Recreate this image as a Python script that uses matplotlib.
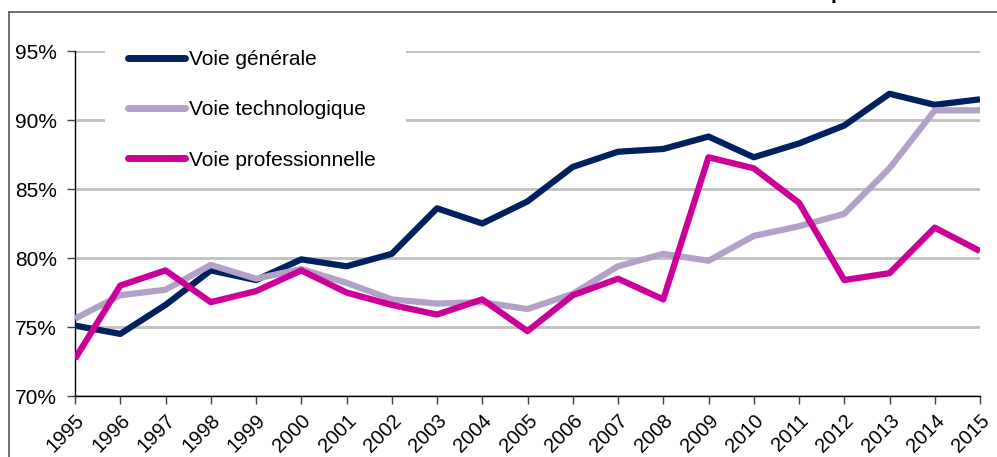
import matplotlib
matplotlib.use("Agg")
import matplotlib.pyplot as plt
from matplotlib.patches import Rectangle
from matplotlib.lines import Line2D
from matplotlib.ticker import FuncFormatter

plt.rcParams['font.family'] = ['Liberation Sans', 'DejaVu Sans']

years = list(range(1995, 2016))
generale = [75.1, 74.5, 76.6, 79.1, 78.4, 79.9, 79.4, 80.3, 83.6, 82.5, 84.1,
            86.6, 87.7, 87.9, 88.8, 87.3, 88.3, 89.6, 91.9, 91.1, 91.5]
techno = [75.6, 77.3, 77.7, 79.5, 78.5, 79.2, 78.2, 77.0, 76.7, 76.8, 76.3,
          77.4, 79.4, 80.3, 79.8, 81.6, 82.3, 83.2, 86.5, 90.7, 90.7]
pro = [72.7, 78.0, 79.1, 76.8, 77.6, 79.1, 77.5, 76.6, 75.9, 77.0, 74.7,
       77.3, 78.5, 77.0, 87.3, 86.5, 84.0, 78.4, 78.9, 82.2, 80.5]
series_names = ['Voie générale', 'Voie technologique', 'Voie professionnelle']
colors = ['#002060', '#B3A2C7', '#CC0099']
yticks = [70, 75, 80, 85, 90, 95]

W, H = 997, 457
fig = plt.figure(figsize=(W / 100, H / 100), dpi=100)
ax = fig.add_axes([75 / W, 1 - 396 / H, (980 - 75) / W, (396 - 51) / H])

lw = 4.5
for vals, name, c in zip([generale, techno, pro], series_names, colors):
    ax.plot(years, vals, color=c, lw=lw, label=name, solid_joinstyle='round',
            solid_capstyle='butt', zorder=3)

ax.set_xlim(1995, 2015)
ax.set_ylim(70, 95)
ax.set_xticks(years)
ax.set_xticklabels([str(y) for y in years], rotation=45, ha='right', va='top',
                   rotation_mode='anchor')
ax.set_yticks(yticks)
ax.yaxis.set_major_formatter(FuncFormatter(lambda v, p: f"{v:.0f}%"))
ax.tick_params(axis='both', labelsize=15, length=6, width=1, color='#404040', direction='out')
ax.tick_params(axis='y', pad=7)
ax.tick_params(axis='x', pad=4.5, labelsize=14.5)

ax.set_axisbelow(True)
ax.grid(axis='y', color='#C0C0C0', lw=2)
ax.grid(axis='x', visible=False)
for s in ['top', 'right']:
    ax.spines[s].set_visible(False)
for s in ['left', 'bottom']:
    ax.spines[s].set_color('black')
    ax.spines[s].set_linewidth(1)

# white legend background covering the grid
bx0, bx1 = (105 - 75) / 905, (406 - 75) / 905
by1 = 1.02
by0 = 1 - (182 - 51) / 345
ax.add_patch(Rectangle((bx0, by0), bx1 - bx0, by1 - by0, transform=ax.transAxes,
                       facecolor='white', edgecolor='none', zorder=1, clip_on=False))

leg = ax.legend(loc='upper left', bbox_to_anchor=(128 / W, 1 - 50 / H),
                bbox_transform=fig.transFigure, frameon=False, fontsize=15,
                handlelength=2.75, handletextpad=0.2, labelspacing=1.5,
                borderpad=0, borderaxespad=0)
for h in leg.get_lines():
    h.set_linewidth(5)
    h.set_solid_capstyle('round')

# outer frame of the original chart
fig.add_artist(Line2D([9 / W, 9 / W], [0, 1 - 12 / H], color='#595959', lw=1.2,
                      transform=fig.transFigure))
fig.add_artist(Line2D([9 / W, 1], [1 - 12 / H, 1 - 12 / H], color='#595959', lw=1.2,
                      transform=fig.transFigure))
# cut-off title above the chart
fig.text(831 / W, 1 + 1 / H, 'p', fontsize=15, fontweight='bold', ha='left', va='baseline')

fig.savefig('out.png', dpi=100)
